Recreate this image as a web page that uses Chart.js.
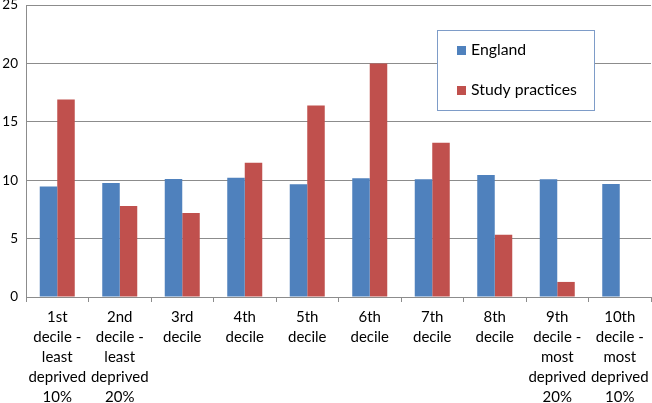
<!DOCTYPE html>
<html>
<head>
<meta charset="utf-8">
<script src="https://cdn.jsdelivr.net/npm/chart.js@4/dist/chart.umd.min.js"></script>
<style>
html,body{margin:0;padding:0;background:#fff;}
#wrap{width:652px;height:403px;position:relative;}
</style>
</head>
<body>
<div id="wrap"><canvas id="c" width="652" height="403"></canvas></div>
<script>
const categories = [
  ["1st","decile -","least","deprived","10%"],
  ["2nd","decile -","least","deprived","20%"],
  ["3rd","decile"],
  ["4th","decile"],
  ["5th","decile"],
  ["6th","decile"],
  ["7th","decile"],
  ["8th","decile"],
  ["9th","decile -","most","deprived","20%"],
  ["10th","decile -","most","deprived","10%"]
];
const englandValues = [9.45, 9.77, 10.1, 10.2, 9.66, 10.17, 10.08, 10.45, 10.08, 9.68];
const studyValues = [16.9, 7.8, 7.2, 11.5, 16.4, 20.0, 13.2, 5.34, 1.29, 0];
const yTicks = [0, 5, 10, 15, 20, 25];

const FONT = "Lato, 'Open Sans', sans-serif";

const boxLegend = {
  id: 'boxLegend',
  afterDraw(chart) {
    const ctx = chart.ctx;
    const x = 437, y = 30, w = 157, h = 80;
    ctx.save();
    ctx.fillStyle = '#fff';
    ctx.fillRect(x, y, w, h);
    ctx.strokeStyle = '#7e9cc8';
    ctx.lineWidth = 1;
    ctx.strokeRect(x + 0.5, y + 0.5, w, h);
    ctx.font = "15.8px " + FONT;
    ctx.textBaseline = 'middle';
    chart.data.datasets.forEach((ds, i) => {
      const cy = y + 20 + i * 40;
      ctx.fillStyle = ds.backgroundColor;
      ctx.fillRect(x + 20, cy - 4, 9, 9);
      ctx.fillStyle = '#000';
      ctx.fillText(ds.label, x + 34, cy);
    });
    ctx.restore();
  }
};

new Chart(document.getElementById('c'), {
  type: 'bar',
  data: {
    labels: categories,
    datasets: [
      { label: 'England', data: englandValues, backgroundColor: '#4f81bd' },
      { label: 'Study practices', data: studyValues, backgroundColor: '#c0504d' }
    ]
  },
  options: {
    responsive: false,
    animation: false,
    layout: { padding: { top: 5, right: 1, left: 0, bottom: 0 } },
    plugins: { legend: { display: false }, tooltip: { enabled: false } },
    datasets: { bar: { barPercentage: 1.0, categoryPercentage: 0.56 } },
    scales: {
      x: {
        offset: true,
        grid: { offset: true, drawOnChartArea: false, drawTicks: true, tickLength: 5, color: '#8c8c8c' },
        border: { color: '#8c8c8c' },
        ticks: { color: '#000', font: { family: FONT, size: 15, lineHeight: 1.33 }, padding: 5, maxRotation: 0, autoSkip: false },
        afterFit(s) { s.height = 106; s.paddingLeft = 0; s.paddingRight = 0; }
      },
      y: {
        min: 0, max: 25,
        afterBuildTicks(s) { s.ticks = yTicks.map(v => ({ value: v })); },
        grid: { color: '#8c8c8c', drawTicks: false },
        border: { color: '#8c8c8c' },
        ticks: { color: '#000', font: { family: FONT, size: 13.5 }, padding: 8 },
        afterFit(s) { s.width = 26; s.paddingTop = 0; s.paddingBottom = 0; }
      }
    }
  },
  plugins: [boxLegend]
});
</script>
</body>
</html>
